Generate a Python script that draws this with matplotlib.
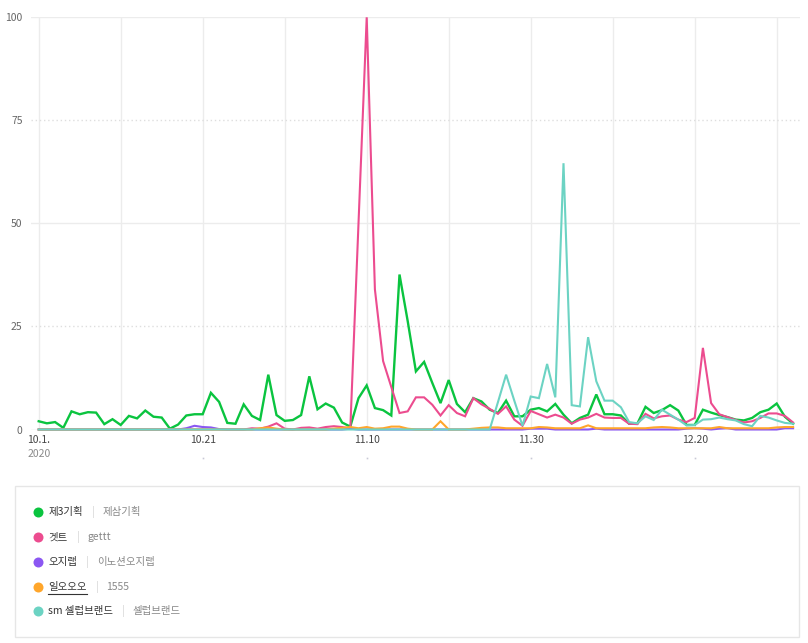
import numpy as np
import matplotlib
matplotlib.use("Agg")
import matplotlib.pyplot as plt
from matplotlib.patches import Rectangle
from matplotlib.lines import Line2D

plt.rcParams['font.family'] = ['Noto Sans CJK KR', 'DejaVu Sans']

# daily index, 2020-10-01 .. 2021-01-01
days = np.arange(93)
tick_days = [0, 20, 40, 60, 80]
tick_labels = ["10.1.", "10.21", "11.10", "11.30", "12.20"]
y_ticks = [0, 25, 50, 75, 100]

names = ["제3기획", "겟트", "오지랩", "일오오오", "sm 셀럽브랜드"]
aliases = ["제삼기획", "gettt", "이노션오지랩", "1555", "셀럽브랜드"]
colors = ["#0ac43f", "#ec4c8f", "#8b57f2", "#ffa62b", "#6cd3c3"]

green = [2.0, 1.5, 1.8, 0.4, 4.4, 3.7, 4.2, 4.1, 1.3, 2.5,
         1.1, 3.3, 2.7, 4.6, 3.1, 2.9, 0.2, 1.2, 3.4, 3.7,
         3.7, 8.9, 6.7, 1.6, 1.4, 6.1, 3.3, 2.3, 13.3, 3.5,
         2.1, 2.3, 3.5, 12.9, 4.9, 6.3, 5.3, 1.7, 0.7, 7.6,
         10.7, 5.2, 4.7, 3.4, 37.6, 26.3, 14.1, 16.4, 11.3, 6.4,
         12.0, 6.2, 4.2, 7.6, 6.8, 4.8, 4.0, 7.0, 3.2, 3.2,
         4.8, 5.2, 4.4, 6.2, 3.6, 1.5, 2.8, 3.6, 8.5, 3.7,
         3.7, 3.4, 1.4, 1.4, 5.5, 4.0, 4.7, 5.9, 4.6, 1.1,
         1.1, 4.8, 4.1, 3.5, 3.0, 2.4, 2.2, 2.8, 4.2, 4.8,
         6.3, 3.1, 1.4]

pink = [0, 0, 0, 0, 0, 0, 0, 0, 0, 0,
        0, 0, 0, 0, 0, 0, 0, 0, 0, 0,
        0, 0, 0, 0, 0, 0, 0.3, 0.2, 0.7, 1.5,
        0.2, 0, 0.4, 0.5, 0.2, 0.6, 0.8, 0.6, 0.2, 50,
        100, 34, 16.6, 10.3, 4.0, 4.4, 7.8, 7.8, 6.0, 3.4,
        5.9, 4.0, 3.2, 7.6, 6.1, 5.0, 3.8, 5.6, 2.4, 0.9,
        4.5, 3.7, 2.9, 3.6, 2.9, 1.4, 2.4, 2.9, 3.8, 2.9,
        2.8, 2.8, 1.4, 1.3, 3.8, 2.7, 3.2, 3.4, 2.4, 1.8,
        2.8, 19.8, 6.4, 3.7, 3.0, 2.3, 1.7, 2.0, 2.8, 3.9,
        3.9, 3.3, 1.7]

purple = [0, 0, 0, 0, 0, 0, 0, 0, 0, 0,
          0, 0, 0, 0, 0, 0, 0, 0, 0.3, 0.9,
          0.6, 0.5, 0.1, 0, 0, 0, 0, 0, 0, 0,
          0, 0, 0, 0, 0, 0, 0, 0, 0.2, 0,
          0, 0, 0, 0, 0, 0, 0, 0, 0, 0,
          0, 0, 0, 0, 0, 0, 0, 0, 0, 0,
          0.2, 0.2, 0.2, 0, 0, 0, 0, 0, 0.2, 0,
          0, 0, 0, 0, 0, 0, 0, 0, 0, 0.2,
          0.3, 0.2, 0, 0.2, 0.3, 0, 0, 0, 0, 0,
          0, 0.3, 0.3]

orange = [0, 0, 0, 0, 0, 0, 0, 0, 0, 0,
          0, 0, 0, 0, 0, 0, 0, 0, 0, 0,
          0, 0, 0, 0, 0, 0, 0, 0.3, 0.5, 0.2,
          0, 0, 0, 0, 0, 0, 0.2, 0.4, 0.6, 0.3,
          0.6, 0.2, 0.3, 0.7, 0.7, 0.2, 0, 0, 0, 2.0,
          0, 0, 0, 0.2, 0.4, 0.5, 0.5, 0.3, 0.3, 0.3,
          0.3, 0.6, 0.5, 0.3, 0.3, 0.3, 0.3, 1.0, 0.3, 0.3,
          0.3, 0.3, 0.3, 0.3, 0.3, 0.5, 0.6, 0.5, 0.3, 0.3,
          0.3, 0.3, 0.3, 0.6, 0.3, 0.3, 0.3, 0.3, 0.3, 0.3,
          0.5, 0.6, 0.6]

teal = [0, 0, 0, 0, 0, 0, 0, 0, 0, 0,
        0, 0, 0, 0, 0, 0, 0, 0, 0, 0,
        0, 0, 0, 0, 0, 0, 0, 0, 0, 0,
        0, 0, 0, 0, 0, 0, 0, 0, 0, 0,
        0, 0, 0, 0, 0, 0, 0, 0, 0, 0,
        0, 0, 0, 0, 0, 0, 6.6, 13.3, 7.0, 0.9,
        8.0, 7.6, 15.9, 7.8, 64.6, 5.9, 5.6, 22.4, 11.7, 7.0,
        7.0, 5.4, 1.8, 1.5, 3.2, 2.3, 4.8, 3.6, 2.4, 1.0,
        1.1, 2.4, 2.5, 2.9, 2.5, 2.2, 1.3, 0.8, 3.3, 2.9,
        2.2, 1.6, 1.4]

series = [green, pink, purple, orange, teal]

W, H = 808, 643
fig = plt.figure(figsize=(W / 100, H / 100), dpi=100)

# plot area in pixels
left_px, right_px = 30.7, 800
top_px, base_px = 17.3, 429.5
ax = fig.add_axes([left_px / W, (H - base_px) / H,
                   (right_px - left_px) / W, (base_px - top_px) / H])
px_day = 8.2
ax.set_xlim(-(38.7 - left_px) / px_day, (right_px - 38.7) / px_day)
ax.set_ylim(0, 100)
for s in ax.spines.values():
    s.set_visible(False)

# grid
for d in range(0, 93, 10):
    ax.axvline(d, color="#ececec", lw=1, zorder=0)
for v in [50, 100]:
    ax.axhline(v, color="#ececec", lw=1, zorder=0)
for v in [25, 75]:
    ax.axhline(v, color="#dedede", lw=1, ls=(0, (1, 2)), zorder=0)
ax.axhline(0, color="#e4e4e4", lw=1, zorder=0)

lws = [1.7, 1.5, 1.5, 1.5, 1.5]
for vals, c, lw in zip(series, colors, lws):
    ax.plot(days, vals, color=c, lw=lw, clip_on=False, solid_joinstyle="miter")

ax.set_yticks(y_ticks)
ax.set_yticklabels([str(v) for v in y_ticks])
ax.tick_params(axis="y", length=0, pad=5.8, labelsize=7.5, labelcolor="#666666")
ax.set_xticks([])

to_ax_y = lambda py: (base_px - py) / (base_px - top_px)
trans = ax.get_xaxis_transform()
for d, lab in zip(tick_days, tick_labels):
    ax.text(d, to_ax_y(440), lab, transform=trans, ha="center", va="center",
            fontsize=7.5, color="#444444", clip_on=False)
    if d > 0:
        ax.plot([d], [to_ax_y(457.5)], transform=trans, marker="s", ms=1.2,
                color="#c9c9d6", clip_on=False, mec="none")
ax.text(0, to_ax_y(454), "2020", transform=trans, ha="center", va="center",
        fontsize=7.5, color="#8a8a8a", clip_on=False)

# legend box
fx = lambda px: px / W
fy = lambda py: (H - py) / H
fig.patches.append(Rectangle((fx(15), fy(637)), fx(799) - fx(15), fy(486) - fy(637),
                             transform=fig.transFigure, fill=False,
                             ec="#e6e6e6", lw=1))

renderer = fig.canvas.get_renderer()
rows_y = [512.3, 537.3, 561.7, 586.7, 610.7]
for name, alias, c, ry in zip(names, aliases, colors, rows_y):
    fig.add_artist(Line2D([fx(38.3)], [fy(ry)], marker="o", ms=7.2, color=c,
                          mec="none", transform=fig.transFigure))
    t1 = fig.text(fx(48.3), fy(ry), name, ha="left", va="center",
                  fontsize=7.5, color="#333333")
    bb = t1.get_window_extent(renderer)
    xb = bb.x1 + 9
    t2 = fig.text(xb / W, fy(ry), "|", ha="left", va="center",
                  fontsize=7, color="#d0d0d0")
    bb2 = t2.get_window_extent(renderer)
    fig.text((bb2.x1 + 8) / W, fy(ry), alias, ha="left", va="center",
             fontsize=7.5, color="#888888")
    if name == "일오오오":
        fig.add_artist(Line2D([bb.x0 / W, bb.x1 / W], [fy(ry + 7.5)] * 2,
                              color="#333333", lw=0.8, transform=fig.transFigure))

fig.savefig("out.png", dpi=100)
